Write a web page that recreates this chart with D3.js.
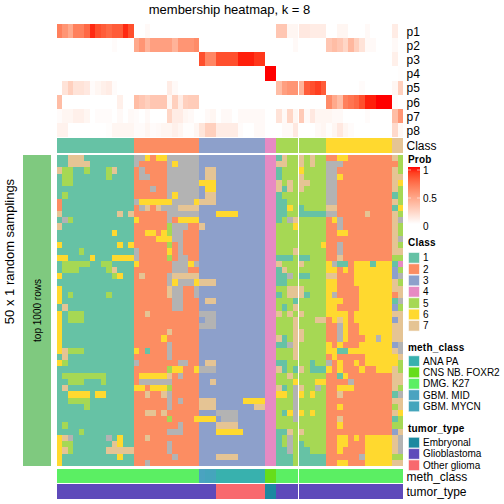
<!DOCTYPE html>
<html><head><meta charset="utf-8">
<script src="https://cdn.jsdelivr.net/npm/d3@7/dist/d3.min.js"></script>
<style>html,body{margin:0;padding:0;background:#fff}svg{display:block}text{font-family:"Liberation Sans",Arial,sans-serif;fill:#000}</style>
</head><body><svg id="c" width="504" height="504"></svg>
<script>
const probNames = ["p1","p2","p3","p4","p5","p6","p7","p8"];
const p1 = [.65,.55,.45,.65,.65,.75,.95,.85,.8,.75,.8,.8,.95,.85, 0,0,.03,0,0,0,0,0,0,0,0,0, 0,0,0,0,0,0,0,0,0,0,0,0, 0,0, .3,.3,.05,.05,.12,.12,.1,.1,.1, 0,0,.05,.05,0,0,0,.03,0,0,0,0, .1,0];
const p2 = [0,0,0,0,0,0,0,0,0,0,.02,0,0,0, .45,.55,.4,.5,.5,.5,.5,.4,.55,.55,.55,.6, 0,0,0,0,0,0,0,0,0,0,0,0, 0,0, 0,0,0,.03,0,0,0,0,0, .3,.35,.3,.22,.38,.25,.15,.03,.03,0,0,0, .03,0];
const p3 = [0,0,0,0,0,0,0,0,0,0,0,0,0,0, 0,0,0,0,0,0,0,0,0,0,0,0, .85,.62,.62,.85,.85,.85,.85,.97,.97,.97,.92,.92, 0,0, 0,0,0,0,0,0,0,0,0, 0,0,0,0,0,0,0,0,0,0,0,0, .08,0];
const p4 = [0,0,0,0,0,0,0,0,0,0,0,0,0,0, 0,0,0,0,0,0,0,0,0,0,0,0, 0,0,0,0,0,0,0,0,0,0,0,0, 1,1, 0,0,0,0,0,0,0,0,0, 0,0,0,0,0,0,0,0,0,0,0,0, 0,.01];
const p5 = [0,.15,.25,.15,.15,.12,.02,.05,.08,.1,.02,0,0,0, 0,0,0,0,0,0,.1,.03,0,0,0,0, 0,0,0,0,0,0,0,0,0,0,0,0, 0,0, .35,.5,.55,.55,.4,.8,.85,.9,.8, 0,0,0,0,0,0,.02,0,0,0,0,0, .05,.25];
const p6 = [.35,0,0,0,0,0,0,0,0,0,0,.08,0,0, .35,.3,.25,.3,.3,.3,.05,.25,.1,.25,.27,.27, 0,0,0,0,0,0,0,0,0,0,0,0, 0,0, 0,0,0,0,0,0,0,0,0, .6,.45,.35,.65,.7,.75,.85,.97,.97,1,1,1, .02,0];
const p7 = [.02,.05,.05,.08,.08,.05,0,.02,.02,.02,0,.03,0,.03, .02,0,.03,0,0,0,.22,.1,.1,.05,.03,0, 0,.03,.05,0,.03,.03,0,.03,.03,.03,.03,.03, 0,0, .15,.03,.22,.05,.28,.03,.12,.05,.05, .05,.03,.03,0,0,0,0,.02,0,0,0,0, .35,.55];
const p8 = [.07,.07,0,0,0,0,0,0,0,.01,.05,.05,.05,.05, .02,.02,.05,.02,.03,.05,.05,.08,.05,.01,.01,.05, .14,.25,.25,.1,.1,.1,.1,.02,0,0,.03,.03, 0,0, 0,.03,.03,.12,0,0,0,.03,.05, .01,.05,.12,.05,.02,0,0,0,0,0,0,0, .2,.04];
const probValues = [p1,p2,p3,p4,p5,p6,p7,p8];

const classColumns = "11111111111111 222222222222 333333333333 44 555555555 666666666666 77";
const methColumns = "CCCCCCCCCCCCCC CCCCCCCCCCCC DEEAAAAAAAAA BB CCCCCCCCC CCCCCCCCCCCC CC";
const tumorColumns = "GGGGGGGGGGGGGG GGGGGGGGGGGG GGGOOOOOOOOO EE GGGGGGGGG GGGGGGGGGGGG GG";

const sampledRows = [
"11777111111111 886266888888 333333333333 44 175575755 226622222222 75",
"11777711111111 822222868888 333333333333 44 775575755 888222222222 25",
"75511511157111 282222888888 377333333333 44 155565555 882222222222 75",
"15511111151111 288222888888 377333333333 44 155575555 886222222222 77",
"15511111111111 222222888888 666333333333 44 757577555 882222222222 76",
"11111111111111 222822888888 366333333333 44 717575555 882222222222 75",
"15111111111111 222222868888 377333333333 44 155555555 882222222222 15",
"21111111111111 866666688886 777333333333 44 115555555 882222222222 75",
"21111111111111 287278887777 333333333333 44 116515555 772222222222 16",
"71111111111717 222222888888 333666633333 44 115511111 882222272222 75",
"18511111111111 622222826666 333333333333 44 158755555 268222222222 78",
"71111111111111 222222588822 733333333333 44 555655555 228222222222 75",
"11111111116111 226626588222 333333333333 44 555555555 226622222222 75",
"11111111111111 222266688222 333333333333 44 555555555 222222222222 78",
"61111111111616 222222528222 333333333333 44 555555556 228222222222 75",
"11115111111111 822222628222 333333333333 44 555755555 228222222222 77",
"66111161116666 822222528822 333333333333 44 111511555 227222222222 55",
"15555511551111 622222288868 333333333333 44 755575555 681126661666 14",
"15551111157111 222222288822 333333333333 44 175555555 662626666666 35",
"61111111115611 272222877777 333333333333 44 118511555 772226666666 38",
"11111111111111 222222868886 777333333333 44 115555555 662226666666 75",
"61111111111111 222222788228 333333333333 44 557775555 662222666666 77",
"61511111151111 222222788228 333333333333 44 157771555 682222666666 27",
"61111111111111 222222288222 377333333333 44 555155555 666222666666 18",
"17111111111111 222222288222 333333333333 44 515755555 662222666666 35",
"61555111111111 227222222222 888333333333 44 757575555 666626666666 77",
"61555111111111 222222222222 388333333333 44 555755577 267626666666 37",
"61111111111111 222222222222 888333333333 44 555755555 228622666666 77",
"61111111111111 222222722222 333333333333 44 555775555 228622666666 77",
"61111111111111 222226222222 333333333333 44 715775555 228622266866 77",
"61111111111111 222222822222 333333333333 44 118755555 626222666666 38",
"67555111111111 621222822222 333333333333 44 555755555 661166666666 78",
"17111111111111 222222822222 333333333333 44 555755555 262222266666 67",
"65111111111111 822222228822 377333333333 44 115555155 826226266666 65",
"11111111111111 222222566226 888333333333 44 715175111 626222622666 75",
"15555555511111 266666728222 333333333333 44 557555555 221622222222 77",
"11555111511111 288888822222 337333333333 44 555655566 222282222222 77",
"17111111111111 662666522222 333333333333 44 715875585 226662222222 75",
"11666616611111 227227822222 333333333333 44 665865655 227222222222 18",
"11555511111111 222222828222 777333336666 44 555855555 222222222222 77",
"11111511111111 222222822222 777333333377 44 555855555 226222222222 57",
"11111111111111 227727222222 333888833333 44 516865655 222222222222 76",
"11111111111111 222222522226 666388833333 44 555855555 227222222222 15",
"15111111111111 222222228222 333777733333 44 555555555 226222222222 55",
"11115111111111 222222888222 333666663333 44 117575555 222222222222 37",
"67811111181611 227222222222 333333333333 44 158555555 226626266666 78",
"65511111117611 222222822222 333333333333 44 158515555 226622266666 78",
"67511111177777 222222822222 333333333333 44 118511555 226222266666 78",
"61111111111611 222222282222 333777733333 44 111511111 222222866666 55",
"61111111111111 228222222222 333333333333 44 111511111 226622266666 77"
];

const classKeys = ["1","2","3","4","5","6","7","8"];
const classHex = ["#66C2A5","#FC8D62","#8DA0CB","#E78AC3","#A6D854","#FFD92F","#E5C494","#B3B3B3"];
const classLegend = ["1","2","3","4","5","6","7"];
const methKeys = ["A","B","C","D","E"];
const methLabels = ["ANA PA","CNS NB. FOXR2","DMG. K27","GBM. MID","GBM. MYCN"];
const methHex = ["#38B1AE","#66DD1A","#5BEF63","#4AA3C0","#45A5BC"];
const tumorKeys = ["E","G","O"];
const tumorLabels = ["Embryonal","Glioblastoma","Other glioma"];
const tumorHex = ["#1C89A0","#5E4ABA","#F8696E"];
const probTicks = [1,0.5,0];

const svg = d3.select("#c");
const strip = s => s.replace(/ /g,"").split("");
const nLeft = 44, nCols = 63;
const xL = d3.scaleBand().domain(d3.range(nLeft)).range([57,298]);
const xR = d3.scaleBand().domain(d3.range(nLeft,nCols)).range([299,403]);
const xPos = c => c < nLeft ? xL(c) : xR(c);
const cellW = c => c < nLeft ? xL.bandwidth() : xR.bandwidth();

const probColor = d3.scaleLinear().domain([0,1]).range(["#ffffff","#ff0000"]).interpolate(d3.interpolateLab);
const classColor = d3.scaleOrdinal(classKeys, classHex);
const methColor = d3.scaleOrdinal(methKeys, methHex);
const tumorColor = d3.scaleOrdinal(tumorKeys, tumorHex);

// membership rows
const yP = d3.scaleBand().domain(probNames).range([24,137.3]);
const gP = svg.append("g").attr("shape-rendering","crispEdges");
probNames.forEach((name,i)=>{
  gP.selectAll(null).data(probValues[i]).join("rect")
    .attr("x",(d,c)=>xPos(c)).attr("width",(d,c)=>cellW(c))
    .attr("y",yP(name)).attr("height",yP.bandwidth())
    .attr("fill",d=>probColor(d));
});
svg.selectAll("text.pl").data(probNames).join("text").attr("class","pl")
  .attr("x",406.5).attr("y",d=>yP(d)+yP.bandwidth()/2+4.7).attr("font-size",12).text(d=>d);

// annotation strips
function annot(values,color,y0,y1){
  svg.append("g").attr("shape-rendering","crispEdges")
    .selectAll("rect").data(values).join("rect")
    .attr("x",(d,c)=>xPos(c)).attr("width",(d,c)=>cellW(c))
    .attr("y",y0).attr("height",y1-y0).attr("fill",d=>color(d));
}
annot(strip(classColumns),classColor,138,152.7);
annot(strip(methColumns),methColor,469,483);
annot(strip(tumorColumns),tumorColor,484,499);

// main matrix
const yM = d3.scaleBand().domain(d3.range(sampledRows.length)).range([155,466]);
const gM = svg.append("g").attr("shape-rendering","crispEdges");
sampledRows.forEach((row,r)=>{
  gM.selectAll(null).data(strip(row)).join("rect")
    .attr("x",(d,c)=>xPos(c)).attr("width",(d,c)=>cellW(c))
    .attr("y",yM(r)).attr("height",yM.bandwidth())
    .attr("fill",d=>classColor(d));
});

// left bar + labels
svg.append("rect").attr("x",23).attr("y",155).attr("width",28).attr("height",311).attr("fill","#7FC97F");
svg.append("text").attr("transform","translate(41,310.5) rotate(-90)").attr("text-anchor","middle").attr("font-size",10).text("top 1000 rows");
svg.append("text").attr("transform","translate(13.7,251.5) rotate(-90)").attr("text-anchor","middle").attr("font-size",13).text("50 x 1 random samplings");
svg.append("text").attr("x",229.5).attr("y",14).attr("text-anchor","middle").attr("font-size",13).text("membership heatmap, k = 8");

// right annotation names
[["Class",149.5],["meth_class",481],["tumor_type",496]].forEach(([t,y])=>{
  svg.append("text").attr("x",406.5).attr("y",y).attr("font-size",12).text(t);
});

// Prob legend
const grad = svg.append("defs").append("linearGradient").attr("id","pg").attr("x1",0).attr("x2",0).attr("y1",0).attr("y2",1);
d3.range(0,1.01,0.1).forEach(t=>grad.append("stop").attr("offset",t).attr("stop-color",probColor(1-t)));
const legendTitle=(t,y)=>svg.append("text").attr("x",408).attr("y",y).attr("font-size",10).attr("font-weight","bold").attr("letter-spacing",.2).text(t);
legendTitle("Prob",162.5);
svg.append("rect").attr("x",408).attr("y",167).attr("width",12).attr("height",57).attr("fill","url(#pg)");
const yLeg = d3.scaleLinear().domain([0,1]).range([226,170]);
svg.selectAll("text.pt").data(probTicks).join("text").attr("class","pt")
  .attr("x",423).attr("y",d=>yLeg(d)+3.6).attr("font-size",10).text(d=>d);
svg.selectAll("line.pt").data(probTicks.slice(0,2)).join("line").attr("class","pt")
  .attr("y1",d=>yLeg(d)).attr("y2",d=>yLeg(d)).attr("x1",408).attr("x2",420)
  .attr("stroke","#fff").attr("stroke-opacity",.55).attr("stroke-width",1).attr("stroke-dasharray","3 6");

function legend(labels,colors,y0){
  const g = svg.append("g");
  const y = d3.scaleLinear().domain([0,1]).range([y0,y0+11.33]);
  g.selectAll("rect").data(labels).join("rect")
    .attr("x",408.5).attr("width",11).attr("y",(d,i)=>y(i)-5.2).attr("height",10.6)
    .attr("fill",(d,i)=>colors[i]).attr("stroke","#fff").attr("stroke-opacity",.55);
  g.selectAll("text").data(labels).join("text")
    .attr("x",423).attr("y",(d,i)=>y(i)+3.6).attr("font-size",10).text(d=>d);
}
legendTitle("Class",246);
legend(classLegend,classHex.slice(0,7),257.7);
legendTitle("meth_class",350.5);
legend(methLabels,methHex,361);
legendTitle("tumor_type",431.5);
legend(tumorLabels,tumorHex,442.5);
</script></body></html>
